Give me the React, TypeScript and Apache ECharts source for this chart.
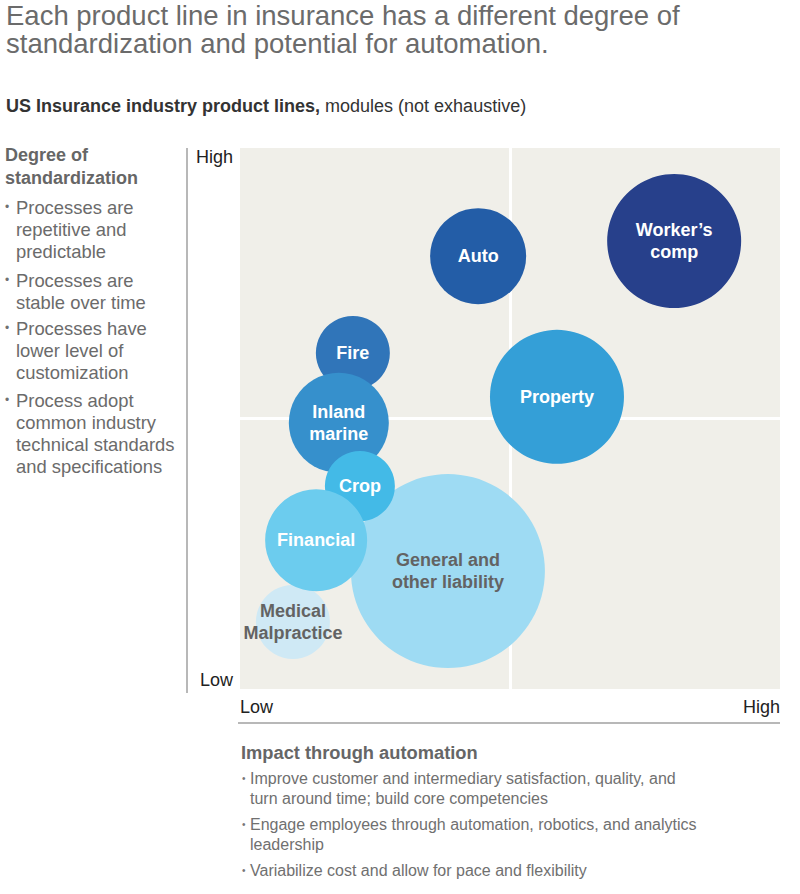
import React, { useEffect, useRef } from "react";
import * as echarts from "echarts";

// Data
const productLines = [
  "Worker’s\ncomp",
  "Auto",
  "Property",
  "Fire",
  "Inland\nmarine",
  "General and\nother liability",
  "Medical\nMalpractice",
  "Crop",
  "Financial",
];
const impactThroughAutomation = [80.4, 44.1, 58.7, 20.9, 18.3, 38.5, 9.8, 22.2, 14.1];
const degreeOfStandardization = [82.8, 80.0, 54.0, 62.1, 49.2, 21.8, 12.4, 37.5, 27.5];
const bubbleSize = [134, 96, 134, 74, 100, 194, 74, 70, 102];
const bubbleColors = ["#27408B", "#235DA7", "#349FD7", "#3075B9", "#3690CC", "#9EDBF3", "#CFE9F5", "#43BAE7", "#6CCCEE"];
const darkLabel = [false, false, false, false, false, true, true, false, false];

const xTickLabels = ["Low", "High"];
const yTickLabels = ["Low", "High"];

const titleText = "Each product line in insurance has a different degree of\nstandardization and potential for automation.";
const subtitleBold = "US Insurance industry product lines,";
const subtitleRegular = " modules (not exhaustive)";
const yHeading = "Degree of\nstandardization";
const yBullets = [
  "Processes are\nrepetitive and\npredictable",
  "Processes are\nstable over time",
  "Processes have\nlower level of\ncustomization",
  "Process adopt\ncommon industry\ntechnical standards\nand specifications",
];
const xHeading = "Impact through automation";
const xBullets = [
  "Improve customer and intermediary satisfaction, quality, and\nturn around time; build core competencies",
  "Engage employees through automation, robotics, and analytics\nleadership",
  "Variabilize cost and allow for pace and flexibility",
];

const FONT = "'Liberation Sans', Arial, Helvetica, sans-serif";

export default function App() {
  const ref = useRef<HTMLDivElement>(null);
  useEffect(() => {
    if (!ref.current) return;
    const chart = echarts.init(ref.current, null, { renderer: "svg" });

    const data = productLines.map((name, i) => ({
      name,
      value: [impactThroughAutomation[i], degreeOfStandardization[i], bubbleSize[i]],
      itemStyle: { color: bubbleColors[i], opacity: 1 },
      label: { color: darkLabel[i] ? "#636363" : "#ffffff" },
    }));

    const graphics: any[] = [];
    graphics.push({
      type: "text",
      left: 6,
      top: 1,
      style: { text: titleText, font: `27.5px ${FONT}`, fill: "#6b6b6b", lineHeight: 28 },
    });
    graphics.push({
      type: "text",
      left: 6,
      top: 97,
      style: {
        text: `{b|${subtitleBold}}{r|${subtitleRegular}}`,
        rich: {
          b: { fontFamily: FONT, fontSize: 18, fontWeight: "bold", fill: "#333333", lineHeight: 22 },
          r: { fontFamily: FONT, fontSize: 18, fill: "#333333", lineHeight: 22 },
        },
      },
    });
    // Left heading
    graphics.push({
      type: "text",
      left: 5,
      top: 143.5,
      style: { text: yHeading, font: `bold 18px ${FONT}`, fill: "#666666", lineHeight: 23 },
    });
    const yTops = [196, 269, 317, 389];
    yBullets.forEach((t, i) => {
      graphics.push({
        type: "text",
        left: 5,
        top: yTops[i],
        style: { text: "•", font: `12px ${FONT}`, fill: "#707070", lineHeight: 22 },
      });
      graphics.push({
        type: "text",
        left: 16,
        top: yTops[i],
        style: { text: t, font: `18.4px ${FONT}`, fill: "#6b6b6b", lineHeight: 22 },
      });
    });
    // Bottom heading
    graphics.push({
      type: "text",
      left: 241,
      top: 741,
      style: { text: xHeading, font: `bold 18.3px ${FONT}`, fill: "#666666", lineHeight: 22 },
    });
    const xTops = [768, 814, 860];
    xBullets.forEach((t, i) => {
      graphics.push({
        type: "text",
        left: 242,
        top: xTops[i],
        style: { text: "•", font: `10px ${FONT}`, fill: "#777777", lineHeight: 20 },
      });
      graphics.push({
        type: "text",
        left: 250,
        top: xTops[i],
        style: { text: t, font: `16px ${FONT}`, fill: "#707070", lineHeight: 20 },
      });
    });
    // Axis rule lines
    graphics.push({
      type: "line",
      shape: { x1: 187, y1: 148, x2: 187, y2: 693 },
      style: { stroke: "#a0a0a0", lineWidth: 1.5 },
    });
    graphics.push({
      type: "line",
      shape: { x1: 238, y1: 723, x2: 780, y2: 723 },
      style: { stroke: "#a0a0a0", lineWidth: 1.5 },
    });

    chart.setOption({
      animation: false,
      grid: {
        left: 240,
        top: 148,
        width: 540,
        height: 541,
        show: true,
        backgroundColor: "#F0EFE9",
        borderWidth: 0,
      },
      xAxis: {
        type: "value",
        min: 0,
        max: 100,
        interval: 50,
        axisLine: { show: false },
        axisTick: { show: false },
        axisLabel: {
          show: true,
          margin: 9,
          fontSize: 18,
          fontFamily: FONT,
          color: "#222222",
          alignMinLabel: "left",
          alignMaxLabel: "right",
          formatter: (v: number) => (v === 0 ? xTickLabels[0] : v === 100 ? xTickLabels[1] : ""),
        },
        splitLine: { show: true, showMinLine: false, showMaxLine: false, lineStyle: { color: "#ffffff", width: 3 } },
      },
      yAxis: {
        type: "value",
        min: 0,
        max: 100,
        interval: 50,
        axisLine: { show: false },
        axisTick: { show: false },
        axisLabel: {
          show: true,
          margin: 7,
          fontSize: 18,
          fontFamily: FONT,
          color: "#222222",
          verticalAlignMinLabel: "bottom",
          verticalAlignMaxLabel: "top",
          formatter: (v: number) => (v === 0 ? yTickLabels[0] : v === 100 ? yTickLabels[1] : ""),
        },
        splitLine: { show: true, showMinLine: false, showMaxLine: false, lineStyle: { color: "#ffffff", width: 3 } },
      },
      graphic: graphics,
      series: [
        {
          type: "scatter",
          data,
          symbolSize: (v: number[]) => v[2],
          label: {
            show: true,
            position: "inside",
            formatter: (p: any) => p.name,
            fontFamily: FONT,
            fontSize: 18,
            fontWeight: "bold",
            lineHeight: 22,
            align: "center",
          },
          emphasis: { disabled: true },
        },
      ],
    });
    return () => chart.dispose();
  }, []);
  return (
    <div
      ref={ref}
      style={{ position: "fixed", left: 0, top: 0, width: 800, height: 894, background: "#ffffff" }}
    />
  );
}
